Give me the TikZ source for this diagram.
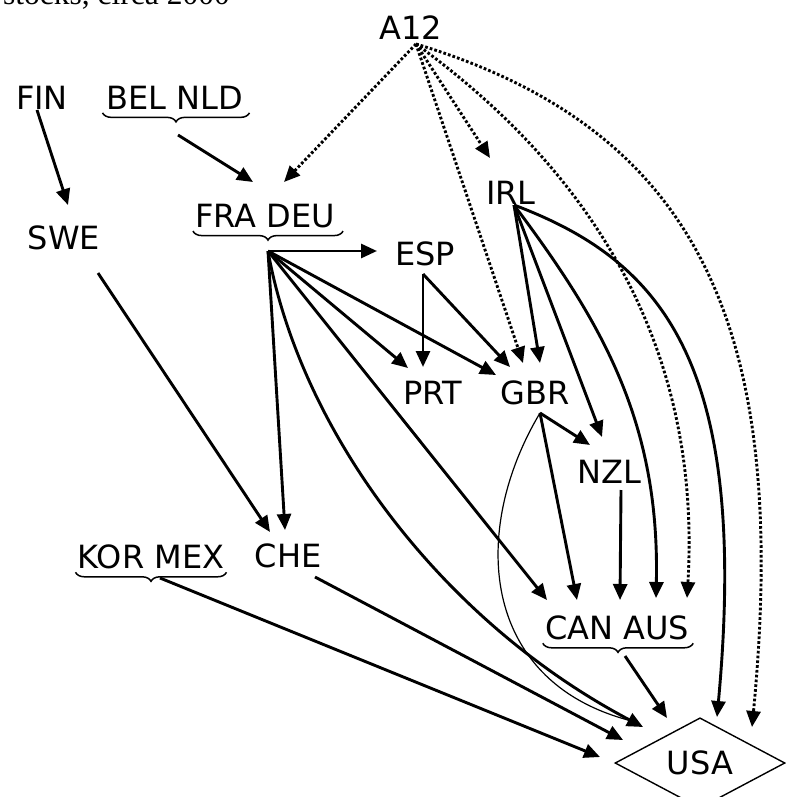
\documentclass[tikz,border=0pt]{standalone}
\usepackage{fontspec}
\setmainfont{DejaVu Sans}
\newfontfamily\serifface{Liberation Serif}
\usetikzlibrary{arrows.meta,shapes.geometric,decorations.pathreplacing}

\begin{document}
\begin{tikzpicture}[
  x=1pt,y=-1pt,
  flow/.style={-{Triangle[length=16pt,width=14pt]}, line width=2.9pt},
  dotflow/.style={flow, dash pattern=on 2.7pt off 2.1pt},
  thinflow/.style={line width=1.2pt},
  cty/.style={inner sep=0pt, font=\fontsize{32}{36}\selectfont},
  grp/.style={decorate, decoration={brace, mirror, amplitude=9pt},
    line width=1.5pt}
]
\useasboundingbox (0,0) rectangle (785,797);

% Caption, cut by the top edge.
\node[anchor=base west, inner sep=0pt,
  font=\serifface\fontsize{31.5}{36}\selectfont] (title) at (3,5)
  {stocks, circa 2000};

% Countries and groups.
\node[cty] (a12) at (411,28) {A12};
\node[cty] (fin) at (42,98) {FIN};
\node[cty] (belnld) at (175,98) {BEL NLD};
\node[cty] (fradeu) at (265,216) {FRA DEU};
\node[cty] (swe) at (64,238) {SWE};
\node[cty] (esp) at (425,254) {ESP};
\node[cty] (irl) at (511,193) {IRL};
\node[cty] (prt) at (433,393) {PRT};
\node[cty] (gbr) at (535,393) {GBR};
\node[cty] (nzl) at (609,472) {NZL};
\node[cty] (che) at (288,556) {CHE};
\node[cty] (kormex) at (151,557) {KOR MEX};
\node[cty] (canaus) at (617,628) {CAN AUS};
\node[draw, diamond, line width=1.4pt, minimum width=170pt,
  minimum height=68pt, inner sep=0pt, font=\fontsize{32}{36}\selectfont]
  (usa) at (700,763) {USA};

\draw[grp] ([shift={(-4,3)}]belnld.south west)
  -- ([shift={(6,3)}]belnld.south east);
\draw[grp] ([shift={(-2,3)}]fradeu.south west)
  -- ([shift={(8,3)}]fradeu.south east);
\draw[grp] ([shift={(-2,3)}]kormex.south west)
  -- ([shift={(2,3)}]kormex.south east);
\draw[grp] ([shift={(-2,3)}]canaus.south west)
  -- ([shift={(4,3)}]canaus.south east);

% Where the arrows leave.
\coordinate (a12o) at ([shift={(5,16)}]a12.center);
\coordinate (fino) at ([shift={(-5,12)}]fin.center);
\coordinate (belnldo) at ([shift={(3,37)}]belnld.center);
\coordinate (fradeuo) at ([shift={(3,35)}]fradeu.center);
\coordinate (espo) at ([shift={(-2,20)}]esp.center);
\coordinate (irlo) at ([shift={(3,12)}]irl.center);
\coordinate (gbro) at ([shift={(5,20)}]gbr.center);
\coordinate (nzlo) at ([shift={(12,18)}]nzl.center);
\coordinate (sweo) at ([shift={(34,35)}]swe.center);
\coordinate (cheo) at ([shift={(27,21)}]che.center);
\coordinate (kormexo) at ([shift={(9,21)}]kormex.center);
\coordinate (canauso) at ([shift={(8,28)}]canaus.center);

% A12, dotted.
\draw[dotflow] (a12o) -- ([shift={(19,-34)}]fradeu.center);
\draw[dotflow] (a12o) -- ([shift={(-21,-35)}]irl.center);
\draw[dotflow] (a12o) -- ([shift={(-12,-30)}]gbr.center);
\draw[dotflow] (a12o) .. controls (590,170) and (702,345)
  .. ([shift={(70,-30)}]canaus.center);
\draw[dotflow] (a12o) .. controls (700,130) and (790,330)
  .. ([shift={(52,-36)}]usa.center);

\draw[flow] (fino) -- ([shift={(4,-33)}]swe.center);
\draw[flow] (belnldo) -- ([shift={(-12,-34)}]fradeu.center);

% FRA DEU fan.
\draw[flow] (fradeuo) -- ([shift={(-48,-3)}]esp.center);
\draw[flow] (fradeuo) -- ([shift={(-25,-25)}]prt.center);
\draw[flow] (fradeuo) -- ([shift={(-39,-18)}]gbr.center);
\draw[flow] (fradeuo) -- ([shift={(-3,-26)}]che.center);
\draw[flow] (fradeuo) -- ([shift={(-70,-28)}]canaus.center);
\draw[flow] (fradeuo) .. controls (300,430) and (440,620)
  .. ([shift={(-57,-36)}]usa.center);

\draw[flow] (espo) -- ([shift={(-10,-26)}]prt.center);
\draw[flow] (espo) -- ([shift={(-25,-26)}]gbr.center);

% IRL fan.
\draw[flow] (irlo) -- ([shift={(5,-30)}]gbr.center);
\draw[flow] (irlo) -- ([shift={(-7,-35)}]nzl.center);
\draw[flow] (irlo) .. controls (600,320) and (660,420)
  .. ([shift={(39,-30)}]canaus.center);
\draw[flow] (irlo) .. controls (660,260) and (750,360)
  .. ([shift={(17,-46)}]usa.center);

% GBR fan.
\draw[flow] (gbro) -- ([shift={(-19,-27)}]nzl.center);
\draw[flow] (gbro) -- ([shift={(-40,-28)}]canaus.center);
\draw[thinflow] (gbro) .. controls (470,530) and (480,680)
  .. ([shift={(-72,-43)}]usa.center);

\draw[flow] (nzlo) -- ([shift={(3,-28)}]canaus.center);
\draw[flow] (sweo) -- ([shift={(-18,-24)}]che.center);
\draw[flow] (cheo) -- ([shift={(-77,-23)}]usa.center);
\draw[flow] (kormexo) -- ([shift={(-100,-6)}]usa.center);
\draw[flow] (canauso) -- ([shift={(-33,-45)}]usa.center);

\end{tikzpicture}
\end{document}
